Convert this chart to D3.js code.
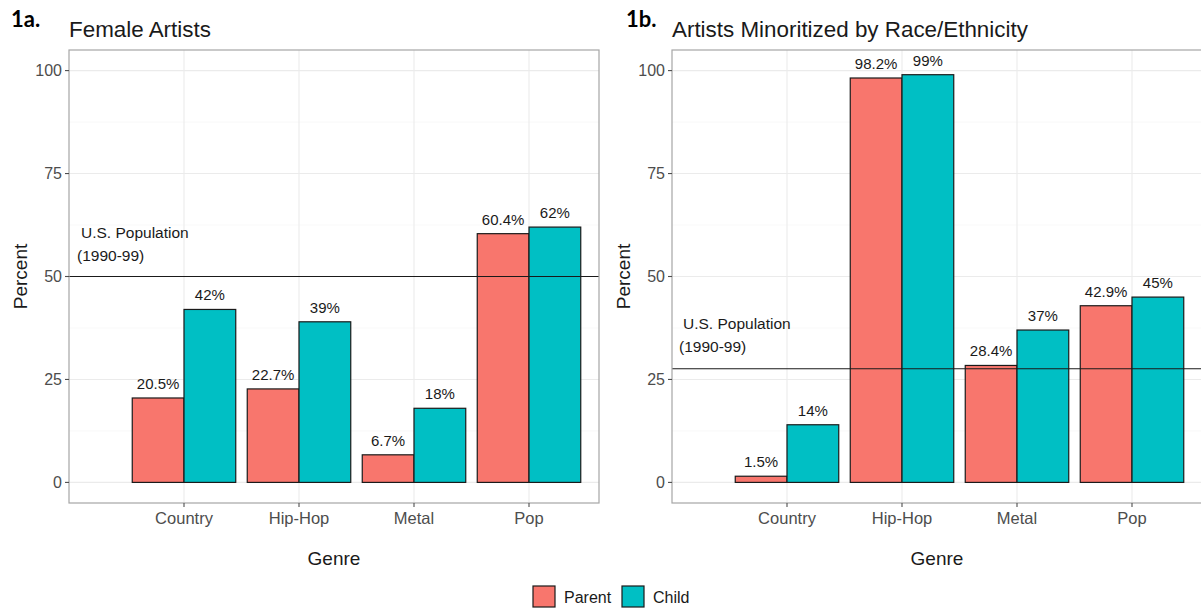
<!DOCTYPE html>
<html>
<head>
<meta charset="utf-8">
<script src="https://cdn.jsdelivr.net/npm/d3@7"></script>
<style>
  html, body { margin: 0; padding: 0; background: #fff; }
  svg { display: block; font-family: "Liberation Sans", Arial, sans-serif; }
</style>
</head>
<body>
<svg id="chart" width="1201" height="608"></svg>
<script>
// Genres on the x axis
const genres = ["Country", "Hip-Hop", "Metal", "Pop"];
const groups = ["Parent", "Child"];

// Panel 1a: share of female artists (%)
const femaleParent = [20.5, 22.7, 6.7, 60.4];
const femaleChild  = [42, 39, 18, 62];
const femaleParentLabels = ["20.5%", "22.7%", "6.7%", "60.4%"];
const femaleChildLabels  = ["42%", "39%", "18%", "62%"];
const femaleBenchmark = 50;

// Panel 1b: share of artists minoritized by race/ethnicity (%)
const minorParent = [1.5, 98.2, 28.4, 42.9];
const minorChild  = [14, 99, 37, 45];
const minorParentLabels = ["1.5%", "98.2%", "28.4%", "42.9%"];
const minorChildLabels  = ["14%", "99%", "37%", "45%"];
const minorBenchmark = 27.6;

const yTicks = [0, 25, 50, 75, 100];
const yMinor = [12.5, 37.5, 62.5, 87.5];
const colors = { Parent: "#F8766D", Child: "#00BFC4" };

const svg = d3.select("#chart");

function drawPanel(cfg) {
  const { left, width, tag, tagX, title, parent, child, parentLabels, childLabels,
          benchmark, noteX, noteY } = cfg;
  const top = 50, bottom = 503;

  const x = d3.scaleLinear().domain([0, 4.6]).range([left, left + 4.6 * 115]);
  const y = d3.scaleLinear().domain([-5, 105]).range([bottom, top]);
  const dodge = d3.scaleBand().domain(groups).range([-0.45, 0.45]);

  const g = svg.append("g");
  const clipId = "clip-" + tag.replace(/\W/g, "");
  g.append("clipPath").attr("id", clipId)
    .append("rect").attr("x", left).attr("y", top).attr("width", width).attr("height", bottom - top);

  const plot = g.append("g").attr("clip-path", `url(#${clipId})`);

  // grid
  plot.selectAll(".minor").data(yMinor).join("line")
    .attr("x1", left).attr("x2", left + width)
    .attr("y1", d => y(d)).attr("y2", d => y(d))
    .attr("stroke", "#f3f3f3").attr("stroke-width", 0.6);
  plot.selectAll(".major").data(yTicks).join("line")
    .attr("x1", left).attr("x2", left + width)
    .attr("y1", d => y(d)).attr("y2", d => y(d))
    .attr("stroke", "#ebebeb").attr("stroke-width", 1.1);
  plot.selectAll(".vmajor").data(genres).join("line")
    .attr("x1", (d, i) => x(i + 1)).attr("x2", (d, i) => x(i + 1))
    .attr("y1", top).attr("y2", bottom)
    .attr("stroke", "#ebebeb").attr("stroke-width", 1.1);

  // bars
  const rows = [];
  genres.forEach((gname, i) => {
    rows.push({ i, group: "Parent", v: parent[i], label: parentLabels[i] });
    rows.push({ i, group: "Child", v: child[i], label: childLabels[i] });
  });
  plot.selectAll("rect.bar").data(rows).join("rect")
    .attr("class", "bar")
    .attr("x", d => x(d.i + 1 + dodge(d.group)))
    .attr("width", d => x(dodge.bandwidth()) - x(0))
    .attr("y", d => y(d.v))
    .attr("height", d => y(0) - y(d.v))
    .attr("fill", d => colors[d.group])
    .attr("stroke", "#1a1a1a").attr("stroke-width", 1.2);

  // value labels
  plot.selectAll("text.val").data(rows).join("text")
    .attr("x", d => x(d.i + 1 + dodge(d.group) + dodge.bandwidth() / 2))
    .attr("y", d => y(d.v) - 9)
    .attr("text-anchor", "middle")
    .attr("font-size", 15).attr("fill", "#1a1a1a")
    .text(d => d.label);

  // benchmark line
  plot.append("line")
    .attr("x1", left).attr("x2", left + width)
    .attr("y1", y(benchmark)).attr("y2", y(benchmark))
    .attr("stroke", "#1a1a1a").attr("stroke-width", 1.2);
  plot.append("text").attr("x", noteX + 4).attr("y", noteY)
    .attr("font-size", 15.5).attr("fill", "#1a1a1a").text("U.S. Population");
  plot.append("text").attr("x", noteX).attr("y", noteY + 23)
    .attr("font-size", 15.5).attr("fill", "#1a1a1a").text("(1990-99)");

  // border
  g.append("rect").attr("x", left).attr("y", top).attr("width", width).attr("height", bottom - top)
    .attr("fill", "none").attr("stroke", "#a6a6a6").attr("stroke-width", 1.2);

  // y axis
  g.selectAll(".ytick").data(yTicks).join("line")
    .attr("x1", left - 4).attr("x2", left).attr("y1", d => y(d)).attr("y2", d => y(d))
    .attr("stroke", "#4d4d4d").attr("stroke-width", 1.1);
  g.selectAll(".ylab").data(yTicks).join("text")
    .attr("x", left - 7).attr("y", d => y(d)).attr("dy", "0.35em")
    .attr("text-anchor", "end").attr("font-size", 16).attr("fill", "#4d4d4d")
    .text(d => d);

  // x axis
  g.selectAll(".xtick").data(genres).join("line")
    .attr("x1", (d, i) => x(i + 1)).attr("x2", (d, i) => x(i + 1))
    .attr("y1", bottom).attr("y2", bottom + 4)
    .attr("stroke", "#4d4d4d").attr("stroke-width", 1.1);
  g.selectAll(".xlab").data(genres).join("text")
    .attr("x", (d, i) => x(i + 1)).attr("y", 518).attr("dy", "0.35em")
    .attr("text-anchor", "middle").attr("font-size", 16.5).attr("fill", "#4d4d4d")
    .text(d => d);

  // axis titles
  g.append("text").attr("x", left + 265).attr("y", 558).attr("dy", "0.35em")
    .attr("text-anchor", "middle").attr("font-size", 19).attr("fill", "#1a1a1a").text("Genre");
  g.append("text")
    .attr("transform", `translate(${left - 49},${y(50)}) rotate(-90)`)
    .attr("dy", "0.35em").attr("text-anchor", "middle")
    .attr("font-size", 19).attr("fill", "#1a1a1a").text("Percent");

  // titles
  g.append("text").attr("x", left).attr("y", 37)
    .attr("font-size", 22.4).attr("fill", "#1a1a1a").text(title);
  g.append("text").attr("x", tagX).attr("y", 27)
    .attr("font-family", "Lato, 'Open Sans', sans-serif").attr("font-weight", "bold")
    .attr("font-size", 22).attr("fill", "#000").text(tag);
}

drawPanel({
  left: 69, width: 530, tag: "1a.", tagX: 11, title: "Female Artists",
  parent: femaleParent, child: femaleChild,
  parentLabels: femaleParentLabels, childLabels: femaleChildLabels,
  benchmark: femaleBenchmark, noteX: 77, noteY: 238
});

drawPanel({
  left: 672, width: 540, tag: "1b.", tagX: 626, title: "Artists Minoritized by Race/Ethnicity",
  parent: minorParent, child: minorChild,
  parentLabels: minorParentLabels, childLabels: minorChildLabels,
  benchmark: minorBenchmark, noteX: 679, noteY: 329
});

// legend
const legend = svg.append("g");
const legendItems = [
  { key: "Parent", box: 533, text: 564 },
  { key: "Child", box: 622, text: 653 }
];
legend.selectAll("rect").data(legendItems).join("rect")
  .attr("x", d => d.box).attr("y", 586).attr("width", 22).attr("height", 21)
  .attr("fill", d => colors[d.key]).attr("stroke", "#1a1a1a").attr("stroke-width", 1.2);
legend.selectAll("text").data(legendItems).join("text")
  .attr("x", d => d.text).attr("y", 597).attr("dy", "0.35em")
  .attr("font-size", 16).attr("fill", "#1a1a1a").text(d => d.key);
</script>
</body>
</html>
